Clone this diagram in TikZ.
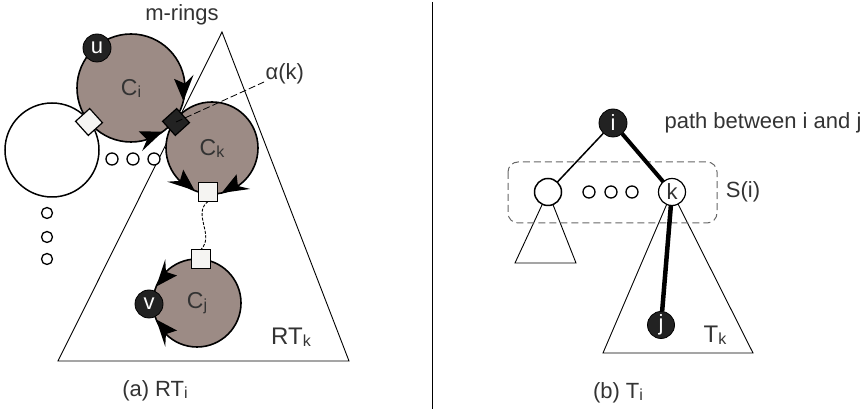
\documentclass[tikz,border=0pt]{standalone}
\usepackage{fontspec}
\setmainfont{Liberation Sans}
\usetikzlibrary{arrows.meta,calc}
\definecolor{ringc}{HTML}{9C8B85}
\definecolor{txt}{HTML}{333333}
\definecolor{sqfill}{HTML}{F5F4F2}
\definecolor{nodec}{HTML}{222222}
\newcommand\lsub[1]{\raisebox{-2pt}{\fontsize{16}{16}\selectfont #1}}
% arrow head lying on a ring: #1 node, #2 radius, #3 tip angle, #4 back angle
\newcommand\ringhead[4]{%
  \fill[black] ($(#1.center)+(#3:#2pt)$)
    -- ($(#1.center)+(#4:#2pt+10pt)$)
    -- ($(#1.center)+({#4+(#3-#4)*0.28}:#2pt)$)
    -- ($(#1.center)+(#4:#2pt-10pt)$) -- cycle;}
\tikzset{
  ring/.style={circle, draw=black, line width=1.6pt, fill=ringc, inner sep=0pt, outer sep=0pt},
  wring/.style={circle, draw=black, line width=1.5pt, fill=white, inner sep=0pt, outer sep=0pt},
  blk/.style={circle, draw=black, line width=0.8pt, fill=nodec, text=white, inner sep=0pt, outer sep=0pt, minimum size=28pt},
  dot/.style={circle, draw=black, line width=1.3pt, fill=white, inner sep=0pt, outer sep=0pt, minimum size=12pt},
  sq/.style={draw=black, fill=sqfill, line width=1.2pt, minimum size=19pt, inner sep=0pt, outer sep=0pt},
  bsq/.style={draw=black, fill=nodec, line width=1.2pt, minimum size=19pt, inner sep=0pt, outer sep=0pt},
  tri/.style={line width=0.9pt},
  big/.style={font=\fontsize{24}{24}\selectfont},
}
\begin{document}
\begin{tikzpicture}[x=1pt,y=1pt,
  every node/.style={font=\fontsize{22}{22}\selectfont, text=txt}]
\useasboundingbox (0,0) rectangle (867,411);

% ---------- (a) ----------
\draw[tri] (222,379) -- (58,50) -- (349,50) -- cycle;
\node (mr) at (182,396) {m-rings};

\node[wring, minimum size=94pt] (L) at (52,261) {};
\node[ring, minimum size=108pt, font=\fontsize{23}{23}\selectfont] (Ci) at (131,323) {C\lsub{i}};
\node[ring, minimum size=92pt, font=\fontsize{23}{23}\selectfont] (Ck) at (212,263) {C\lsub{k}};
\node[ring, minimum size=88pt, font=\fontsize{23}{23}\selectfont] (Cj) at (197,108) {C\lsub{j}};

\foreach \n/\x in {h1/112,h2/133,h3/154} \node[dot] (\n) at (\x,252) {};
\foreach \n/\y in {v1/198,v2/174,v3/152} \node[dot, minimum size=11pt] (\n) at (47,\y) {};

% arrow heads along rings
\ringhead{Ci}{54}{-14}{12}
\ringhead{Ci}{54}{-54}{-80}
\ringhead{Ck}{46}{-112}{-143}
\ringhead{Ck}{46}{-78}{-47}
\ringhead{Cj}{44}{158}{126}
\ringhead{Cj}{44}{202}{234}

\node[sq, rotate=42] (wd) at (89,289) {};
\node[bsq, rotate=42] (bd) at (176,289) {};
\node[sq] (s1) at (208,219) {};
\node[sq] (s2) at (201,152) {};
\draw[line width=0.9pt, dash pattern=on 3pt off 1.5pt] (s1.south) .. controls +(-16,-12) and +(14,14) .. (s2.north);

\node[blk] (u) at (97,363) {u};
\node[blk] (v) at (149,107) {v};

\node[anchor=west] (alpha) at (262,337) {α(k)};
\coordinate (aend) at (264,329);
\draw[line width=0.8pt, dash pattern=on 7pt off 3pt] (bd.center) -- (aend);

\node[big] (rtk) at (291,74) {RT\lsub{k}};
\node (capa) at (155,20) {(a)~RT\lsub{i}};

% divider
\draw[line width=1pt] (432,409) -- (432,2);

% ---------- (b) ----------
\coordinate (la) at (548,219);
\coordinate (ka) at (672,219);
\draw[tri] (la) -- (515,148) -- (576,148) -- cycle;
\draw[tri] (ka) -- (603,58) -- (753,58) -- cycle;
\draw[rounded corners=10pt, draw=black!60, line width=1pt, dash pattern=on 7pt off 4pt] (508,249) rectangle (717,188);

\node[blk] (i) at (613,288) {i};
\node[blk, minimum size=27pt] (j) at (661,86) {j};
\draw[line width=1.5pt] (i) -- (la);
\draw[line width=4pt] (i) -- (ka);
\draw[line width=4.5pt] (ka) -- (j);

\node[wring, minimum size=27pt] (l) at (la) {};
\node[wring, minimum size=27pt, line width=1.2pt] (k) at (ka) {k};
\foreach \n/\x in {d1/589,d2/611,d3/632} \node[dot] (\n) at (\x,219) {};

\node[anchor=west] (pth) at (661,288) {path between i and j};
\node (si) at (743,219) {S(i)};
\node[big] (tk) at (715,76) {T\lsub{k}};
\node (capb) at (618,18) {(b)~T\lsub{i}};
\end{tikzpicture}
\end{document}
